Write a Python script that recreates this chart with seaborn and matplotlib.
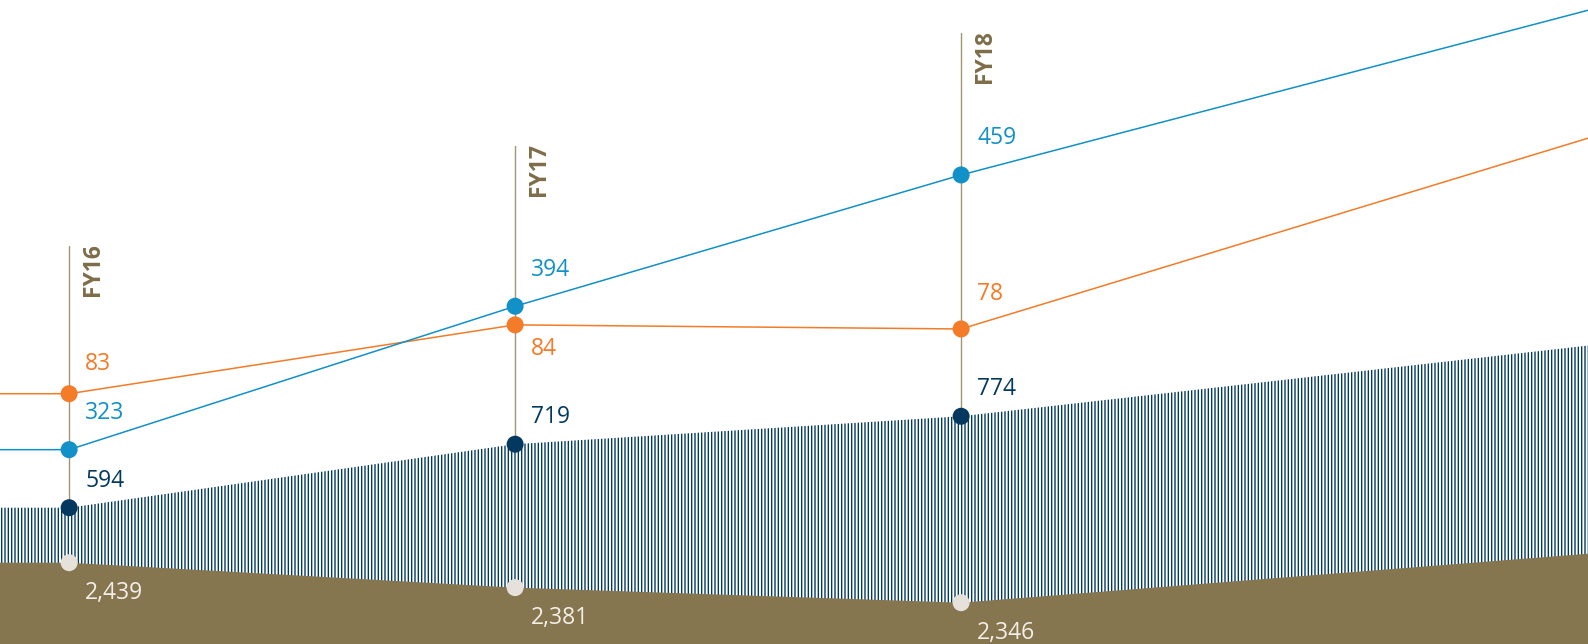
import numpy as np
import matplotlib
matplotlib.use("Agg")
import matplotlib.pyplot as plt
import seaborn as sns

# ---------------- data ----------------
years = ["FY16", "FY17", "FY18", "FY19"]          # FY19 is not labelled; its values are read from the lines leaving the frame
blue_vals = [323, 394, 459, 517]
orange_vals = [83, 84, 78, 94]
navy_vals = [594, 719, 774, 873]
brown_vals = [2439, 2381, 2346, 2427]
blue_labels = ["323", "394", "459"]
orange_labels = ["83", "84", "78"]
navy_labels = ["594", "719", "774"]
brown_labels = ["2,439", "2,381", "2,346"]
n_labelled = 3

# ---------------- style / layout ----------------
BLUE = "#1290c8"
ORANGE = "#f47b28"
NAVY = "#03395f"
BROWN = "#857650"
LIGHT = "#e6e1db"
FYCOL = "#7d6d48"
VLINE = "#a39574"

XLIM = (-0.155, 3.4056)
NAVY_LIM = (325.7, 1593.4)
BROWN_LIM = (2249.9, 3747.6)
BLUE_LIM = (226.8, 545.6)
ORANGE_SCALE, ORANGE_BASE = 10.51, 61.65      # orange is drawn stacked over the navy series
FY_TOP = [0.6185, 0.7738, 0.9492]              # axes fraction of the FY marker tops
ORANGE_DY = [24, -30, 28.5]                    # label baseline offsets (px)
LABEL_FS = 16.5

sns.set_theme(style="white")
plt.rcParams["font.family"] = ["Open Sans", "DejaVu Sans"]
plt.rcParams["hatch.linewidth"] = 1.0

fig = plt.figure(figsize=(15.88, 6.44), dpi=100, facecolor="white")
ax = fig.add_axes([0, 0, 1, 1])
ax_brown = ax.twinx()
ax_blue = ax.twinx()


def extend(vals):
    x = np.arange(len(vals), dtype=float)
    v = np.asarray(vals, dtype=float)
    right = v[-1] + (v[-1] - v[-2]) * (XLIM[1] - x[-1])
    return np.r_[XLIM[0], x, XLIM[1]], np.r_[v[0], v, right]


xi = np.arange(n_labelled)

# navy hatched area
xe, ne = extend(navy_vals)
ax.fill_between(xe, ne, NAVY_LIM[0], facecolor="white", edgecolor=NAVY,
                hatch="|||||", linewidth=0, zorder=2)

# FY marker lines (behind everything else)
trans = ax.get_xaxis_transform()
for i in range(n_labelled):
    bfrac = (brown_vals[i] - BROWN_LIM[0]) / (BROWN_LIM[1] - BROWN_LIM[0])
    ax.plot([i, i], [bfrac, FY_TOP[i]], transform=trans, color=VLINE, lw=1.0, zorder=1)
    ax.annotate(years[i], xy=(i, FY_TOP[i]), xycoords=trans, xytext=(24, 3),
                textcoords="offset pixels", rotation=90, ha="center", va="top",
                fontsize=16.5, fontweight="bold", color=FYCOL)

# orange line, stacked on navy
orange_plot = np.asarray(navy_vals, float) + ORANGE_SCALE * (np.asarray(orange_vals, float) - ORANGE_BASE)
xo, oe = extend(orange_plot)
sns.lineplot(x=xo, y=oe, ax=ax, color=ORANGE, linewidth=1.1, sort=False, zorder=3)
sns.scatterplot(x=xi, y=orange_plot[:n_labelled], ax=ax, color=ORANGE, s=150,
                edgecolor="none", zorder=5)
for i in range(n_labelled):
    ax.annotate(orange_labels[i], xy=(i, orange_plot[i]), xytext=(16, ORANGE_DY[i]),
                textcoords="offset pixels", ha="left", va="baseline",
                fontsize=LABEL_FS, color=ORANGE)

# navy dots and labels
sns.scatterplot(x=xi, y=navy_vals[:n_labelled], ax=ax, color=NAVY, s=150,
                edgecolor="none", zorder=5)
for i in range(n_labelled):
    ax.annotate(navy_labels[i], xy=(i, navy_vals[i]), xytext=(16, 21),
                textcoords="offset pixels", ha="left", va="baseline",
                fontsize=LABEL_FS, color=NAVY)

# brown area
xb, be = extend(brown_vals)
ax_brown.fill_between(xb, be, BROWN_LIM[0], color=BROWN, linewidth=0, zorder=2)
sns.scatterplot(x=xi, y=brown_vals[:n_labelled], ax=ax_brown, color=LIGHT, s=150,
                edgecolor="none", zorder=5)
for i in range(n_labelled):
    ax_brown.annotate(brown_labels[i], xy=(i, brown_vals[i]), xytext=(16, -36.5),
                      textcoords="offset pixels", ha="left", va="baseline",
                      fontsize=LABEL_FS, color="#f3efe8")

# blue line
xbl, ble = extend(blue_vals)
sns.lineplot(x=xbl, y=ble, ax=ax_blue, color=BLUE, linewidth=1.1, sort=False, zorder=3)
sns.scatterplot(x=xi, y=blue_vals[:n_labelled], ax=ax_blue, color=BLUE, s=150,
                edgecolor="none", zorder=5)
for i in range(n_labelled):
    ax_blue.annotate(blue_labels[i], xy=(i, blue_vals[i]), xytext=(16, 30.5),
                     textcoords="offset pixels", ha="left", va="baseline",
                     fontsize=LABEL_FS, color=BLUE)

ax.set_ylim(*NAVY_LIM)
ax_brown.set_ylim(*BROWN_LIM)
ax_blue.set_ylim(*BLUE_LIM)
for a in (ax, ax_brown, ax_blue):
    a.set_xlim(*XLIM)
    a.axis("off")

fig.savefig("out.png", dpi=100, facecolor="white")
